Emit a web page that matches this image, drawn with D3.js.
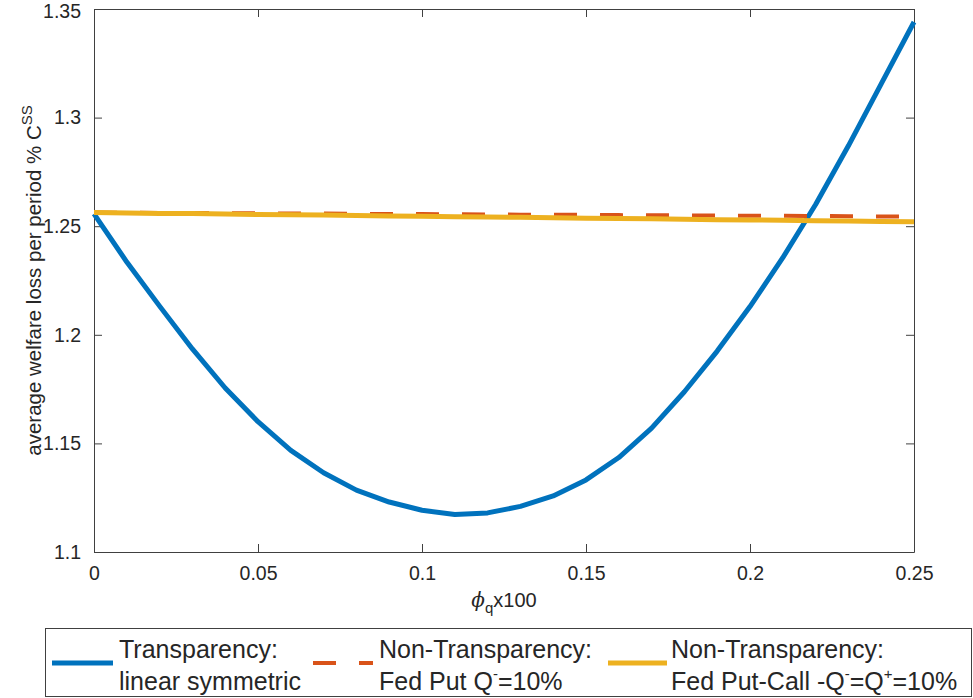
<!DOCTYPE html>
<html>
<head>
<meta charset="utf-8">
<script src="https://cdnjs.cloudflare.com/ajax/libs/d3/7.8.5/d3.min.js"></script>
<style>
body { margin: 0; background: #fff; }
text { font-family: "Liberation Sans", Arial, Helvetica, sans-serif; fill: #262626; }
</style>
</head>
<body>
<div id="chart"></div>
<script>
// data
var phi_q = [0, 0.01, 0.02, 0.03, 0.04, 0.05, 0.06, 0.07, 0.08, 0.09, 0.10, 0.11, 0.12,
             0.13, 0.14, 0.15, 0.16, 0.17, 0.18, 0.19, 0.20, 0.21, 0.22, 0.23, 0.24, 0.25];

var transparency = [1.2557, 1.2335, 1.2132, 1.1935, 1.1755, 1.1600, 1.1468, 1.1365, 1.1285,
                    1.1230, 1.1192, 1.1173, 1.1180, 1.1210, 1.1258, 1.1332, 1.1435, 1.1570,
                    1.1738, 1.1925, 1.2130, 1.2355, 1.2600, 1.2870, 1.3155, 1.3440];

var fed_put = [1.2563, 1.2562, 1.2561, 1.2561, 1.2560, 1.2559, 1.2558, 1.2558, 1.2557, 1.2556,
               1.2556, 1.2555, 1.2554, 1.2553, 1.2553, 1.2552, 1.2551, 1.2550, 1.2550, 1.2549,
               1.2548, 1.2548, 1.2547, 1.2546, 1.2545, 1.2545];

var fed_put_call = [1.2563, 1.2561, 1.2559, 1.2558, 1.2556, 1.2554, 1.2553, 1.2551, 1.2549,
                    1.2547, 1.2546, 1.2544, 1.2542, 1.2541, 1.2539, 1.2537, 1.2535, 1.2534,
                    1.2532, 1.2530, 1.2529, 1.2527, 1.2525, 1.2524, 1.2522, 1.2520];

var x_ticks = [0, 0.05, 0.1, 0.15, 0.2, 0.25];
var y_ticks = [1.1, 1.15, 1.2, 1.25, 1.3, 1.35];

//width and height
var chart_width = 973;
var chart_height = 698;
var left = 94, right = 914, top_y = 9, bottom = 552;

var x = d3.scaleLinear().domain([0, 0.25]).range([left, right]);
var y = d3.scaleLinear().domain([1.1, 1.35]).range([bottom, top_y]);

var svg = d3.select("#chart")
            .append("svg")
            .attr("width", chart_width)
            .attr("height", chart_height);

var axis_color = "#404040";

// axes, matlab style ticks pointing inward on all four sides
var fmt = function(d) { return String(+d.toFixed(2)); };

var gx = svg.append("g")
    .attr("transform", "translate(0," + bottom + ")")
    .call(d3.axisBottom(x).tickValues(x_ticks).tickFormat(fmt)
        .tickSizeInner(-8).tickSizeOuter(0).tickPadding(14));

var gy = svg.append("g")
    .attr("transform", "translate(" + left + ",0)")
    .call(d3.axisLeft(y).tickValues(y_ticks).tickFormat(fmt)
        .tickSizeInner(-8).tickSizeOuter(0).tickPadding(13));

var gt = svg.append("g")
    .attr("transform", "translate(0," + top_y + ")")
    .call(d3.axisTop(x).tickValues(x_ticks).tickFormat("")
        .tickSizeInner(-8).tickSizeOuter(0));

var gr = svg.append("g")
    .attr("transform", "translate(" + right + ",0)")
    .call(d3.axisRight(y).tickValues(y_ticks).tickFormat("")
        .tickSizeInner(-8).tickSizeOuter(0));

[gx, gy, gt, gr].forEach(function(g) {
    g.selectAll("path, line").attr("stroke", axis_color).attr("stroke-width", 1);
    g.selectAll("text")
        .style("font-family", '"Liberation Sans", Arial, sans-serif')
        .style("font-size", "19.5px")
        .attr("fill", "#262626");
});
// keep the top label inside the page
gy.selectAll(".tick text").filter(function(d) { return d === 1.35; }).attr("dy", "0.45em");

// lines
var series = [
    { values: transparency, color: "#0072BD", width: 5, dash: null },
    { values: fed_put, color: "#D95319", width: 4, dash: "23 23" },
    { values: fed_put_call, color: "#EDB120", width: 5, dash: null }
];

var line = d3.line()
    .x(function(d, i) { return x(phi_q[i]); })
    .y(function(d) { return y(d); });

svg.append("g")
    .selectAll("path")
    .data(series)
    .enter()
    .append("path")
    .attr("d", function(d) { return line(d.values); })
    .attr("fill", "none")
    .attr("stroke", function(d) { return d.color; })
    .attr("stroke-width", function(d) { return d.width; })
    .attr("stroke-dasharray", function(d) { return d.dash; })
    .attr("stroke-linejoin", "round");

// axis labels
var xlab = svg.append("text")
    .attr("x", 504)
    .attr("y", 607)
    .attr("text-anchor", "middle")
    .style("font-size", "20px");
xlab.append("tspan").text("ϕ").style("font-style", "italic")
    .style("font-family", '"DejaVu Serif", serif');
xlab.append("tspan").text("q").attr("dy", 6).style("font-size", "15px");
xlab.append("tspan").text("x100").attr("dy", -6);

var ylab = svg.append("text")
    .attr("transform", "translate(41," + ((top_y + bottom) / 2) + ") rotate(-90)")
    .attr("text-anchor", "middle")
    .style("font-size", "20.5px");
ylab.append("tspan").text("average welfare loss per period % C");
ylab.append("tspan").text("SS").attr("dy", -9).style("font-size", "15px");

// legend
var legend = svg.append("g");
legend.append("rect")
    .attr("x", 45.5).attr("y", 628.5)
    .attr("width", 926).attr("height", 68)
    .attr("fill", "#fff")
    .attr("stroke", axis_color)
    .attr("stroke-width", 1);

var legend_items = [
    { x0: 52, x1: 113, tx: 119, l1: ["Transparency:"], l2: [["linear symmetric"]] },
    { x0: 313, x1: 373, tx: 379, l1: ["Non-Transparency:"], l2: [["Fed Put Q"], ["-", "sup"], ["=10%"]] },
    { x0: 608, x1: 667, tx: 671, l1: ["Non-Transparency:"],
      l2: [["Fed Put-Call -Q"], ["-", "sup"], ["=Q"], ["+", "sup"], ["=10%"]] }
];

legend_items.forEach(function(item, i) {
    var s = series[i];
    legend.append("line")
        .attr("x1", item.x0).attr("x2", item.x1)
        .attr("y1", 663).attr("y2", 663)
        .attr("stroke", s.color)
        .attr("stroke-width", s.width)
        .attr("stroke-dasharray", s.dash);

    legend.append("text")
        .attr("x", item.tx).attr("y", 658)
        .style("font-size", "25px")
        .text(item.l1[0]);

    var t2 = legend.append("text")
        .attr("x", item.tx).attr("y", 690)
        .style("font-size", "25px");
    var shift = 0;
    item.l2.forEach(function(part) {
        if (part[1] === "sup") {
            t2.append("tspan").text(part[0]).attr("dy", -11).style("font-size", "15px");
            shift = 11;
        } else {
            t2.append("tspan").text(part[0]).attr("dy", shift);
            shift = 0;
        }
    });
});
</script>
</body>
</html>
